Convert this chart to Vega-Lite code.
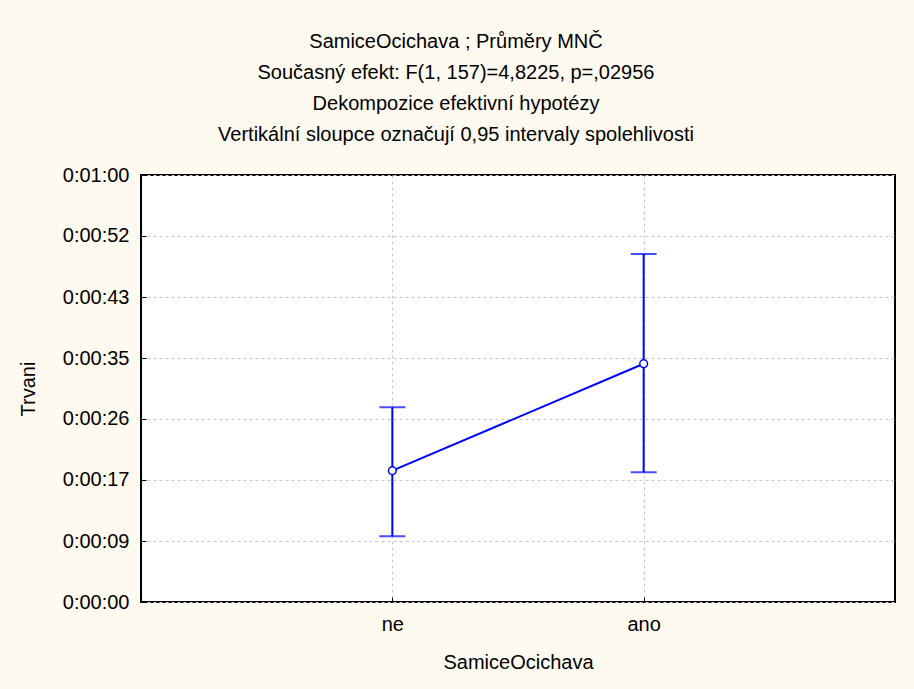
{
  "$schema": "https://vega.github.io/schema/vega-lite/v6.json",
  "width": 754,
  "height": 427,
  "autosize": "none",
  "padding": {"left": 141, "top": 175, "right": 19, "bottom": 87},
  "background": "#FEFAEF",
  "title": {
    "text": ["SamiceOcichava ; Průměry MNČ", "Současný efekt: F(1, 157)=4,8225, p=,02956", "Dekompozice efektivní hypotézy", "Vertikální sloupce označují 0,95 intervaly spolehlivosti"],
    "font": "Liberation Sans",
    "fontSize": 20,
    "fontWeight": "normal",
    "color": "black",
    "lineHeight": 31,
    "anchor": "middle",
    "dx": -62,
    "offset": 20
  },
  "config": {
    "font": "Liberation Sans",
    "view": {"stroke": "black", "strokeWidth": 2, "fill": "white"}
  },
  "data": {
    "values": [
      {"SamiceOcichava": "ne", "mean": 18.45, "lo": 9.23, "hi": 27.36},
      {"SamiceOcichava": "ano", "mean": 33.48, "lo": 18.22, "hi": 48.9}
    ]
  },
  "encoding": {
    "x": {
      "field": "SamiceOcichava",
      "type": "nominal",
      "sort": ["ne", "ano"],
      "scale": {"type": "point", "padding": 1},
      "axis": {
        "title": "SamiceOcichava",
        "labelAngle": 0,
        "labelFontSize": 20,
        "labelColor": "black",
        "labelPadding": 17,
        "titleFontSize": 20,
        "titleFontWeight": "normal",
        "titleColor": "black",
        "titlePadding": 18,
        "domain": false,
        "tickSize": -5,
        "tickColor": "black",
        "grid": true,
        "gridDash": [3, 3],
        "gridColor": "#c8c8c8"
      }
    }
  },
  "layer": [
    {
      "mark": {"type": "rule", "color": "#0000FF", "strokeWidth": 2},
      "encoding": {
        "y": {
          "field": "lo",
          "type": "quantitative",
          "scale": {"domain": [0, 60], "nice": false},
          "axis": {
            "title": "Trvani",
            "titleFontSize": 20,
            "titleFontWeight": "normal",
            "titleColor": "black",
            "titlePadding": 24,
            "values": [0, 8.5714, 17.1429, 25.7143, 34.2857, 42.8571, 51.4286, 60],
            "labelExpr": "['0:00:00','0:00:09','0:00:17','0:00:26','0:00:35','0:00:43','0:00:52','0:01:00'][round(datum.value*7/60)]",
            "labelFontSize": 20,
            "labelColor": "black",
            "labelPadding": 17,
            "domain": false,
            "tickSize": -5,
            "tickColor": "black",
            "grid": true,
            "gridDash": [3, 3],
            "gridColor": "#c8c8c8"
          }
        },
        "y2": {"field": "hi"}
      }
    },
    {
      "mark": {"type": "tick", "color": "#0000FF", "size": 26, "thickness": 2},
      "encoding": {"y": {"field": "lo", "type": "quantitative"}}
    },
    {
      "mark": {"type": "tick", "color": "#0000FF", "size": 26, "thickness": 2},
      "encoding": {"y": {"field": "hi", "type": "quantitative"}}
    },
    {
      "mark": {"type": "line", "color": "#0000FF", "strokeWidth": 2},
      "encoding": {"y": {"field": "mean", "type": "quantitative"}}
    },
    {
      "mark": {"type": "point", "filled": true, "fill": "white", "stroke": "#0000FF", "strokeWidth": 1.5, "size": 60, "opacity": 1},
      "encoding": {"y": {"field": "mean", "type": "quantitative"}}
    }
  ]
}
